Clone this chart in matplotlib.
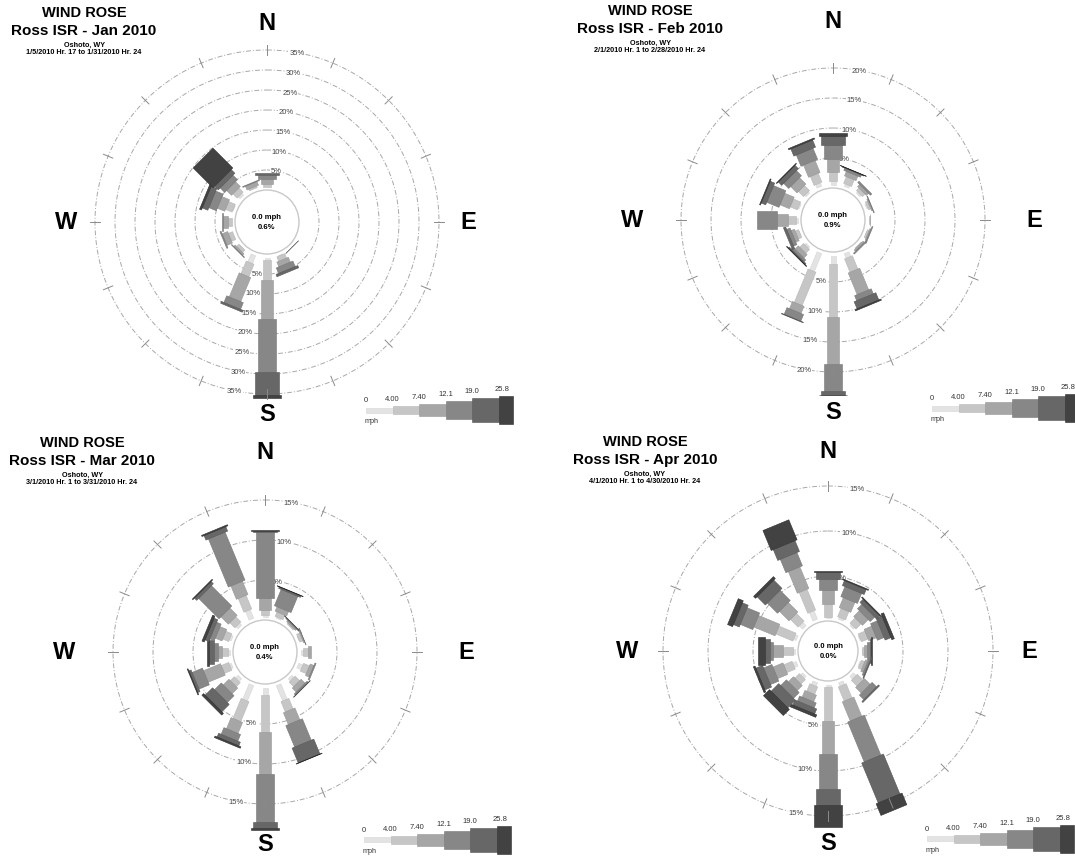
import numpy as np
import matplotlib.pyplot as plt
from matplotlib.patches import Polygon, Circle, Rectangle

plt.rcParams['font.family'] = ['Liberation Sans', 'DejaVu Sans']

directions = ['N', 'NNE', 'NE', 'ENE', 'E', 'ESE', 'SE', 'SSE',
              'S', 'SSW', 'SW', 'WSW', 'W', 'WNW', 'NW', 'NNW']
speed_bins = ['0', '4.00', '7.40', '12.1', '19.0', '25.8']

# % of hours from each direction, split by speed class (0-4, 4-7.4, 7.4-12.1, 12.1-19, 19-25.8, >25.8 mph)
jan_pct = [
    [0.6, 1.0, 1.2, 1.0, 0.5, 0.0],
    [0.3, 0.1, 0.0, 0.0, 0.0, 0.0],
    [0.2, 0.0, 0.0, 0.0, 0.0, 0.0],
    [0.2, 0.0, 0.0, 0.0, 0.0, 0.0],
    [0.2, 0.0, 0.0, 0.0, 0.0, 0.0],
    [0.3, 0.1, 0.0, 0.0, 0.0, 0.0],
    [0.3, 0.3, 0.2, 0.1, 0.0, 0.0],
    [1.0, 1.2, 1.3, 1.5, 0.6, 0.0],
    [1.6, 5.0, 9.6, 13.3, 5.8, 0.7],
    [3.0, 3.4, 6.5, 1.8, 0.5, 0.0],
    [0.9, 0.8, 0.5, 0.15, 0.0, 0.0],
    [0.8, 1.2, 1.5, 0.3, 0.0, 0.0],
    [0.8, 0.9, 1.3, 0.3, 0.0, 0.0],
    [1.0, 1.8, 2.0, 2.0, 1.5, 0.5],
    [1.5, 1.5, 1.7, 1.6, 1.3, 7.0],
    [0.6, 0.7, 1.0, 0.2, 0.0, 0.0],
]
feb_pct = [
    [1.2, 1.5, 2.2, 2.2, 1.6, 0.4],
    [1.0, 1.2, 0.8, 0.4, 0.1, 0.05],
    [0.9, 0.6, 0.5, 0.3, 0.0, 0.0],
    [0.8, 0.4, 0.2, 0.1, 0.0, 0.0],
    [0.6, 0.2, 0.1, 0.0, 0.0, 0.0],
    [0.6, 0.3, 0.2, 0.15, 0.0, 0.0],
    [0.4, 0.3, 0.3, 0.2, 0.0, 0.0],
    [1.4, 2.4, 3.9, 0.9, 1.3, 0.2],
    [2.0, 8.9, 7.8, 4.4, 0.7, 0.1],
    [3.8, 6.0, 1.3, 1.2, 0.1, 0.0],
    [0.9, 0.9, 0.8, 0.4, 0.2, 0.1],
    [0.6, 0.6, 0.6, 0.6, 0.4, 0.0],
    [0.9, 1.2, 1.9, 3.3, 0.0, 0.0],
    [0.8, 1.3, 1.7, 2.2, 0.8, 0.15],
    [0.9, 1.2, 1.5, 1.2, 0.8, 0.1],
    [1.2, 1.6, 2.2, 2.0, 1.3, 0.2],
]
mar_pct = [
    [0.6, 0.7, 1.4, 8.3, 0.15, 0.05],
    [0.6, 0.6, 0.6, 2.2, 0.2, 0.05],
    [0.3, 0.3, 0.2, 0.1, 0.05, 0.0],
    [0.5, 0.4, 0.15, 0.05, 0.0, 0.0],
    [0.8, 0.6, 0.3, 0.0, 0.0, 0.0],
    [1.0, 0.8, 0.5, 0.15, 0.0, 0.0],
    [0.8, 0.8, 0.7, 0.2, 0.05, 0.0],
    [2.5, 1.4, 1.6, 2.9, 2.0, 0.05],
    [1.4, 4.6, 5.2, 6.0, 0.85, 0.15],
    [2.5, 2.7, 1.5, 0.9, 0.5, 0.2],
    [0.9, 0.7, 1.0, 1.2, 1.3, 0.3],
    [0.7, 1.0, 2.3, 1.4, 0.3, 0.1],
    [0.6, 0.8, 0.5, 0.5, 0.6, 0.2],
    [0.7, 0.8, 0.9, 0.6, 0.5, 0.3],
    [0.8, 0.9, 1.3, 3.6, 0.4, 0.1],
    [1.6, 1.85, 1.8, 6.5, 0.6, 0.15],
]
apr_pct = [
    [0.45, 1.45, 1.5, 1.3, 0.8, 0.1],
    [0.6, 1.0, 1.2, 1.2, 0.6, 0.1],
    [0.6, 0.8, 0.9, 0.7, 0.5, 0.1],
    [0.5, 0.8, 0.9, 0.8, 0.7, 0.3],
    [0.4, 0.3, 0.3, 0.3, 0.15, 0.05],
    [0.5, 0.4, 0.3, 0.2, 0.1, 0.0],
    [0.8, 0.9, 0.9, 0.7, 0.15, 0.0],
    [0.8, 1.7, 2.3, 4.8, 4.8, 1.4],
    [0.7, 3.7, 3.7, 3.85, 1.85, 2.4],
    [0.8, 0.9, 0.8, 0.6, 0.6, 0.3],
    [0.7, 0.7, 0.8, 0.9, 1.2, 0.95],
    [0.8, 1.0, 1.2, 1.0, 0.8, 0.2],
    [0.55, 1.1, 1.1, 0.4, 0.55, 0.75],
    [0.7, 2.05, 2.55, 1.5, 0.7, 0.6],
    [0.9, 1.2, 1.5, 1.6, 1.3, 0.3],
    [1.4, 2.5, 2.6, 1.6, 1.3, 2.4],
]

calm_pct = [0.6, 0.9, 0.4, 0.0]
months = ['Jan 2010', 'Feb 2010', 'Mar 2010', 'Apr 2010']
date_ranges = ['1/5/2010 Hr. 17 to 1/31/2010 Hr. 24',
               '2/1/2010 Hr. 1 to 2/28/2010 Hr. 24',
               '3/1/2010 Hr. 1 to 3/31/2010 Hr. 24',
               '4/1/2010 Hr. 1 to 4/30/2010 Hr. 24']
ring_max = [35, 20, 15, 15]

class_colors = ['#e3e3e3', '#c6c6c6', '#a6a6a6', '#878787', '#676767', '#424242']
class_edges = ['#d6d6d6', '#b8b8b8', '#989898', '#787878', '#565656', '#2e2e2e']
class_widths = [5, 8.5, 12.5, 18, 23.5, 28]

# panel centre (px), calm circle radius (px), px per percent
layout = [(267, 223, 32, 4.0),
          (833, 221, 32, 6.0),
          (265, 653, 32, 8.0),
          (828, 652, 30, 9.0)]
bar_gap = 3.5

ring_ls = (0, (5, 2, 1, 2))


def draw_rose(ax, cx, cy, r0, k, freqs, rmax_pct, calm, month, dates):
    t = np.linspace(0, 2 * np.pi, 400)
    rings = list(range(5, rmax_pct + 1, 5))
    for pct in rings:
        r = r0 + pct * k
        ax.plot(cx + r * np.sin(t), cy - r * np.cos(t), color='#a8a8a8',
                lw=0.7, ls=ring_ls, zorder=1)
        for ang in (10, 191):
            a = np.radians(ang)
            ax.text(cx + r * np.sin(a), cy - r * np.cos(a), f'{pct}%',
                    fontsize=5.5, color='#444444', ha='center', va='center',
                    zorder=2, bbox=dict(fc='white', ec='none', pad=0.6))

    # radial ticks on the outer ring
    rm = r0 + rings[-1] * k
    for i in range(16):
        a = np.radians(22.5 * i)
        ax.plot([cx + (rm - 5) * np.sin(a), cx + (rm + 5) * np.sin(a)],
                [cy - (rm - 5) * np.cos(a), cy - (rm + 5) * np.cos(a)],
                color='#8a8a8a', lw=0.7, zorder=6)

    ax.add_patch(Circle((cx, cy), r0, fill=False, ec='#c8c8c8', lw=1.0, zorder=2))

    for i, row in enumerate(freqs):
        a = np.radians(22.5 * i)
        u = np.array([np.sin(a), -np.cos(a)])
        n = np.array([np.cos(a), np.sin(a)])
        c = np.array([cx, cy])
        edges = r0 + k * np.concatenate([[0], np.cumsum(row)])
        edges = np.maximum(edges, r0 + bar_gap)
        for j in range(6):
            if edges[j + 1] - edges[j] <= 0:
                continue
            p0 = c + u * edges[j]
            p1 = c + u * edges[j + 1]
            h = class_widths[j] / 2
            ax.add_patch(Polygon([p0 + n * h, p1 + n * h, p1 - n * h, p0 - n * h],
                                 closed=True, fc=class_colors[j], ec=class_edges[j],
                                 lw=0.4, zorder=3))

    ax.text(cx, cy - 5, '0.0 mph', fontsize=5.5, weight='bold', ha='center', va='center', zorder=4)
    ax.text(cx, cy + 5, f'{calm:.1f}%', fontsize=5.5, weight='bold', ha='center', va='center', zorder=4)

    # compass letters
    for lab, dx, dy in (('N', 0, -200), ('S', 0, 192), ('W', -201, 0), ('E', 201, 0)):
        ax.text(cx + dx, cy + dy, lab, fontsize=17, weight='bold', ha='center', va='center')

    # title block
    tx = cx - 183
    ax.text(tx, cy - 210, 'WIND ROSE', fontsize=10.5, weight='bold', ha='center', va='center')
    ax.text(tx, cy - 192, f'Ross ISR - {month}', fontsize=11, weight='bold', ha='center', va='center')
    ax.text(tx, cy - 178, 'Oshoto, WY', fontsize=5.2, weight='bold', ha='center', va='center')
    ax.text(tx, cy - 170, dates, fontsize=5.2, weight='bold', ha='center', va='center')

    # speed legend
    lx, ly = cx + 99, cy + 188
    seg = [26.5, 26.5, 26.5, 26.5, 26.5, 14]
    x = lx
    for j in range(6):
        h = class_widths[j]
        ax.add_patch(Rectangle((x, ly - h / 2), seg[j], h, fc=class_colors[j],
                               ec=class_edges[j], lw=0.4, zorder=3))
        ax.text(x + (4 if j == 5 else 0), ly - h / 2 - 4, speed_bins[j], fontsize=5.5,
                color='#333333', ha='center', va='bottom')
        x += seg[j]
    ax.text(lx + 6, ly + 11, 'mph', fontsize=5.2, color='#333333', ha='center', va='center')


fig = plt.figure(figsize=(10.75, 8.62), dpi=100)
ax = fig.add_axes([0, 0, 1, 1])
ax.set_xlim(0, 1075)
ax.set_ylim(862, 0)
ax.axis('off')

all_pct = [jan_pct, feb_pct, mar_pct, apr_pct]
for p in range(4):
    cx, cy, r0, k = layout[p]
    draw_rose(ax, cx, cy, r0, k, all_pct[p], ring_max[p], calm_pct[p],
              months[p], date_ranges[p])

fig.savefig('out.png', dpi=100, facecolor='white')
